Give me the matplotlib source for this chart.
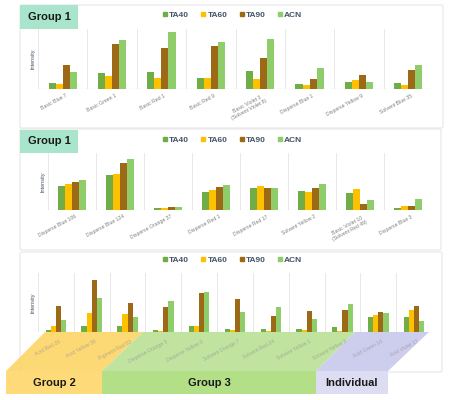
import numpy as np
import matplotlib
matplotlib.use('Agg')
import matplotlib.pyplot as plt
from matplotlib.patches import Polygon, Rectangle, FancyBboxPatch
from matplotlib.lines import Line2D

plt.rcParams['font.family'] = ['Liberation Sans', 'DejaVu Sans']

series = ['TA40', 'TA60', 'TA90', 'ACN']
colors = ['#70ad47', '#ffc000', '#9c6a17', '#8fcd6b']

# panel 1 (Group 1, top)
dyes_1 = ['Basic Blue 7', 'Basic Green 1', 'Basic Red 1', 'Basic Red 9',
          'Basic Violet 3\n(Solvent Violet 8)', 'Disperse Blue 1',
          'Disperse Yellow 9', 'Solvent Blue 35']
ta40_1 = [6.3, 16.3, 17.3, 11.3, 18.0, 5.0, 6.7, 5.7]
ta60_1 = [5.0, 13.0, 11.3, 11.3, 9.7, 4.0, 9.0, 4.0]
ta90_1 = [23.7, 45.3, 41.3, 43.3, 31.3, 10.3, 13.7, 19.3]
acn_1 = [17.3, 49.3, 57.3, 46.7, 50.0, 20.7, 7.0, 24.0]

# panel 2 (Group 1, middle)
dyes_2 = ['Disperse Blue 106', 'Disperse Blue 124', 'Disperse Orange 37',
          'Disperse Red 1', 'Disperse Red 17', 'Solvent Yellow 2',
          'Basic Violet 10\n(Solvent Red 49)', 'Disperse Blue 3']
ta40_2 = [24.0, 35.3, 1.7, 17.7, 22.3, 19.3, 16.7, 1.7]
ta60_2 = [25.7, 36.3, 1.7, 20.3, 24.3, 18.0, 21.3, 4.3]
ta90_2 = [28.0, 47.0, 2.7, 23.0, 21.7, 22.0, 6.3, 4.3]
acn_2 = [30.3, 51.3, 2.7, 24.7, 22.3, 26.0, 9.7, 11.0]

# panel 3 (Group 2 / Group 3 / Individual)
dyes_3 = ['Acid Red 26', 'Acid Yellow 36', 'Pigment Red 53', 'Disperse Orange 3',
          'Disperse Yellow 3', 'Solvent Orange 7', 'Solvent Red 24',
          'Solvent Yellow 1', 'Solvent Yellow 3', 'Acid Green 16', 'Acid Violet 17']
ta40_3 = [2.3, 6.0, 5.7, 2.3, 6.3, 3.3, 2.7, 2.7, 4.7, 15.3, 15.3]
ta60_3 = [6.3, 18.3, 17.3, 1.3, 6.0, 1.7, 1.3, 1.7, 1.3, 16.7, 21.3]
ta90_3 = [25.7, 51.0, 29.0, 24.7, 38.3, 32.3, 16.0, 20.7, 21.7, 19.7, 25.7]
acn_3 = [12.3, 33.3, 15.0, 30.7, 39.3, 19.3, 25.0, 13.3, 27.3, 18.7, 10.7]

W, H = 450, 400
text_col = '#44546a'


def rect(x0, y0, x1, y1):
    return [x0 / W, 1 - y1 / H, (x1 - x0) / W, (y1 - y0) / H]


def pt(x, y):
    return (x / W, 1 - y / H)


fig = plt.figure(figsize=(4.5, 4), dpi=100)

# panel frames
for (x0, y0, x1, y1) in [(20, 5, 443, 128), (20, 129, 441, 250), (20, 252, 442, 372)]:
    fig.patches.append(FancyBboxPatch(pt(x0, y1), (x1 - x0) / W, (y1 - y0) / H,
                                      boxstyle='round,pad=0,rounding_size=0.004',
                                      transform=fig.transFigure, fc='white',
                                      ec='#e6e6e6', lw=0.8, zorder=-3))

# "Group 1" headers
for (y0, y1) in [(5, 29), (130, 153)]:
    fig.patches.append(Rectangle(pt(20, y1), 58 / W, (y1 - y0) / H,
                                 transform=fig.transFigure, fc='#a9e4cd',
                                 ec='none', zorder=-1))
    fig.text(49 / W, 1 - (y0 + y1) / 2 / H, 'Group 1', ha='center', va='center',
             fontsize=8, fontweight='bold', color='#1a1a1a')

# bottom group bands
bands = [
    ('Group 2', 45, 143, 6, 102, '#fdd566', '#ffda79'),
    ('Group 3', 143, 355, 102, 316, '#b9e096', '#b3df86'),
    ('Individual', 355, 429, 316, 388, '#c8c8ec', '#dcdcf3'),
]
for name, tl, tr, bl, br, c_par, c_rect in bands:
    fig.patches.append(Polygon([pt(tl, 332), pt(tr, 332), pt(br, 371), pt(bl, 371)],
                               closed=True, transform=fig.transFigure,
                               fc=c_par, ec='none', alpha=0.9, zorder=-1))
    fig.patches.append(Rectangle(pt(bl, 394), (br - bl) / W, 23 / H,
                                 transform=fig.transFigure, fc=c_rect,
                                 ec='none', zorder=-1))
    fig.text((bl + br) / 2 / W, 1 - 382.5 / H, name, ha='center', va='center',
             fontsize=8, fontweight='bold', color='#1a1a1a')


def draw_panel(ax, labels, values, ymax, lab_dy, lab_color, lab_alpha):
    n = len(labels)
    x = np.arange(n)
    w = 0.143
    for i, (vals, c) in enumerate(zip(values, colors)):
        ax.bar(x + (i - 1.5) * w, vals, w, color=c, zorder=2)
    ax.set_xlim(-0.5, n - 0.5)
    ax.set_ylim(0, ymax)
    for xb in np.arange(n + 1) - 0.5:
        ax.axvline(xb, color='#e4e4e4', lw=0.6, zorder=1)
    ax.axhline(0, color='#d9d9d9', lw=0.8, zorder=1)
    for s in ax.spines.values():
        s.set_visible(False)
    ax.set_xticks([])
    ax.set_yticks([])
    ax.patch.set_alpha(0)
    ax.set_ylabel('Intensity', fontsize=4, color=text_col, labelpad=2)
    for i, lab in enumerate(labels):
        ax.annotate(lab, xy=(i, 0), xycoords=('data', 'axes fraction'),
                    xytext=(2, lab_dy), textcoords='offset points',
                    rotation=28, ha='right', va='top', rotation_mode='anchor',
                    multialignment='center', fontsize=3.7, color=lab_color,
                    alpha=lab_alpha, annotation_clip=False)
    handles = [Line2D([], [], marker='s', ls='', color=c, markersize=3) for c in colors]
    return handles


ax1 = fig.add_axes(rect(38, 29, 433, 89))
h = draw_panel(ax1, dyes_1, [ta40_1, ta60_1, ta90_1, acn_1], 60, -3, '#7f7f7f', 1)
ax2 = fig.add_axes(rect(48, 153, 432, 210))
draw_panel(ax2, dyes_2, [ta40_2, ta60_2, ta90_2, acn_2], 57, -3, '#7f7f7f', 1)
ax3 = fig.add_axes(rect(38, 273, 432, 332))
draw_panel(ax3, dyes_3, [ta40_3, ta60_3, ta90_3, acn_3], 58.3, -5, '#8a8a8a', 0.6)

for y in [15, 140, 260]:
    leg = fig.legend(h, series, loc='center', bbox_to_anchor=(232 / W, 1 - y / H),
                     ncol=4, frameon=False, fontsize=6, handletextpad=0.1,
                     columnspacing=1.3, handlelength=0.8, borderpad=0)
    for t in leg.get_texts():
        t.set_color(text_col)
        t.set_fontweight('bold')

fig.savefig('out.png', dpi=100)
